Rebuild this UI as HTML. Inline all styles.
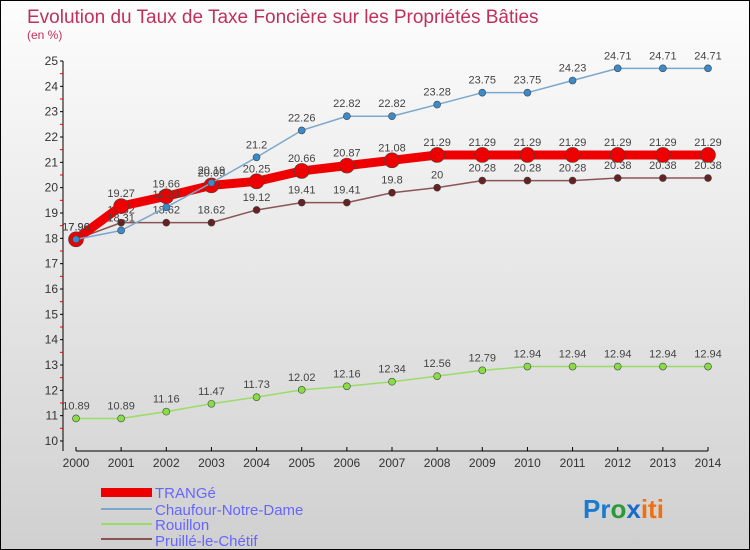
<!DOCTYPE html>
<html><head><meta charset="utf-8"><style>
body{margin:0;width:750px;height:550px;overflow:hidden;font-family:"Liberation Sans",sans-serif}
#wrap{position:relative;width:748px;height:548px;border:1px solid #000;background:linear-gradient(#fdfdfd,#d0d0d0)}
</style></head><body>
<div id="wrap">
<svg id="chart" width="748" height="548" style="position:absolute;left:0;top:0">
<text x="26" y="22" font-size="19" fill="#c0305a">Evolution du Taux de Taxe Foncière sur les Propriétés Bâties</text>
<text x="26" y="38" font-size="12" fill="#c0305a">(en %)</text>
<g id="axes"></g><g id="series"></g>
<g>
<rect x="100" y="487" width="51" height="9" fill="#e00"/>
<text x="154" y="497" font-size="15" fill="#66f">TRANGé</text>
<line x1="100" y1="508" x2="151" y2="508" stroke="#7aa7cc" stroke-width="2"/>
<text x="154" y="514" font-size="15" fill="#66f">Chaufour-Notre-Dame</text>
<line x1="100" y1="523" x2="151" y2="523" stroke="#99dd66" stroke-width="2"/>
<text x="154" y="529" font-size="15" fill="#66f">Rouillon</text>
<line x1="100" y1="538" x2="151" y2="538" stroke="#8b5555" stroke-width="2"/>
<text x="154" y="545" font-size="15" fill="#66f">Pruillé-le-Chétif</text>
</g>
<text x="582" y="517" font-size="26" font-weight="bold"><tspan fill="#1a7acc">Pr</tspan><tspan fill="#2a9a3a">o</tspan><tspan fill="#1a6acc">x</tspan><tspan fill="#f07010">iti</tspan></text>
</svg>
</div>
<script>
const years=[2000,2001,2002,2003,2004,2005,2006,2007,2008,2009,2010,2011,2012,2013,2014];
const yTicks=[10,11,12,13,14,15,16,17,18,19,20,21,22,23,24,25];
const trange=[17.96,19.27,19.66,20.09,20.25,20.66,20.87,21.08,21.29,21.29,21.29,21.29,21.29,21.29,21.29];
const chaufour=[17.96,18.31,19.23,20.19,21.2,22.26,22.82,22.82,23.28,23.75,23.75,24.23,24.71,24.71,24.71];
const rouillon=[10.89,10.89,11.16,11.47,11.73,12.02,12.16,12.34,12.56,12.79,12.94,12.94,12.94,12.94,12.94];
const pruille=[17.96,18.62,18.62,18.62,19.12,19.41,19.41,19.8,20,20.28,20.28,20.28,20.38,20.38,20.38];
const NS="http://www.w3.org/2000/svg";
const X=i=>75+i*(632/14);
const Y=v=>440-(v-10)*(380/15);
function mk(tag,attrs,parent,txt){const e=document.createElementNS(NS,tag);for(const k in attrs)e.setAttribute(k,attrs[k]);if(txt!==undefined)e.textContent=txt;parent.appendChild(e);return e;}
const ax=document.getElementById('axes');
let yl=mk('line',{x1:62,y1:Y(25),x2:62,y2:Y(10)+10,stroke:'#000'},ax);


let xl=mk('line',{x1:75,y1:450,x2:707,y2:450,stroke:'#000'},ax);


yTicks.forEach(v=>{
 mk('line',{x1:59,y1:Y(v),x2:62,y2:Y(v),stroke:'#000'},ax);
 if(v<25)mk('line',{x1:59,y1:Y(v+0.5),x2:62,y2:Y(v+0.5),stroke:'#e00'},ax);
 const t=mk('text',{x:57,y:Y(v)+4,'font-size':12,fill:'#333','text-anchor':'end'},ax,v);
 
 
});
years.forEach((y,i)=>{
 mk('line',{x1:X(i),y1:446,x2:X(i),y2:450,stroke:'#000'},ax);
 const t=mk('text',{x:X(i),y:466,'font-size':12,fill:'#333','text-anchor':'middle'},ax,y);
 
 
});
const sg=document.getElementById('series');
function series(name,data,color,w,r,fill){
 const g=mk('g',{},sg);
 
 
 const p=mk('polyline',{points:data.map((v,i)=>X(i)+','+Y(v)).join(' '),fill:'none',stroke:color,'stroke-width':w,'stroke-linejoin':'round'},g);
 
 
 data.forEach((v,i)=>{
  const c=mk('circle',{cx:X(i),cy:Y(v),r:r,fill:fill,stroke:'#444','stroke-width':0.6},g);
  
  
  const t=mk('text',{x:X(i),y:Y(v)-9,'font-size':11,fill:'#444','text-anchor':'middle'},g,String(v));
  
  
 });
}
series('rouillon',rouillon,'#99dd66',1.5,3.5,'#88dd44');
series('pruille',pruille,'#8b5555',1.5,3.5,'#662222');
series('trange',trange,'#ee0000',9,7.5,'#ee0000');
series('chaufour',chaufour,'#7aa7cc',1.5,3.5,'#3a8acc');
</script>
</body></html>
